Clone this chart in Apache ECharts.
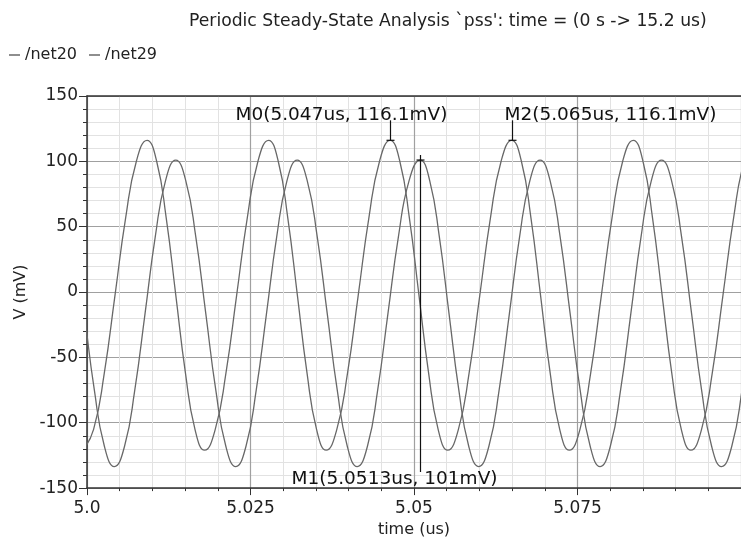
<!DOCTYPE html>
<html><head><meta charset="utf-8">
<script src="https://cdn.jsdelivr.net/npm/echarts@6/dist/echarts.min.js"></script>
<style>html,body{margin:0;padding:0;background:#fff}#c{width:741px;height:543px}</style>
</head><body><div id="c"></div>
<script>
// ---- data ----
const titleText = "Periodic Steady-State Analysis `pss': time = (0 s -> 15.2 us)";
const seriesNames = ['/net20', '/net29'];
const xTickLabels = ['5.0', '5.025', '5.05', '5.075', '5.1'];

// /net20 : time (us) and voltage (mV)
const net20_t = [4.99938,5.00101,5.00265,5.00428,5.00591,5.00755,5.00918,
  5.01065,5.01211,5.01358,5.01505,5.01651,5.01798,
  5.01961,5.02125,5.02288,5.02451,5.02614,5.02777,
  5.02924,5.03070,5.03217,5.03364,5.03510,5.03657,
  5.03820,5.03984,5.04147,5.04310,5.04473,5.04636,
  5.04783,5.04929,5.05076,5.05223,5.05369,5.05516,
  5.05679,5.05843,5.06006,5.06169,5.06332,5.06495,
  5.06642,5.06788,5.06935,5.07082,5.07228,5.07375,
  5.07538,5.07702,5.07865,5.08028,5.08191,5.08354,
  5.08501,5.08647,5.08794,5.08941,5.09087,5.09234,
  5.09397,5.09561,5.09724,5.09887,5.10050,5.10213];
const net20_mV = [-121,-105.1,-61.8,-2.5,56.8,100.1,116.1,
  100.1,56.8,-2.5,-61.8,-105.1,-121,
  -105.1,-61.8,-2.5,56.8,100.1,116.1,
  100.1,56.8,-2.5,-61.8,-105.1,-121,
  -105.1,-61.8,-2.5,56.8,100.1,116.1,
  100.1,56.8,-2.5,-61.8,-105.1,-121,
  -105.1,-61.8,-2.5,56.8,100.1,116.1,
  100.1,56.8,-2.5,-61.8,-105.1,-121,
  -105.1,-61.8,-2.5,56.8,100.1,116.1,
  100.1,56.8,-2.5,-61.8,-105.1,-121,
  -105.1,-61.8,-2.5,56.8,100.1,116.1];

// /net29 : time (us) and voltage (mV)
const net29_t = [4.99500,4.99653,4.99806,4.99959,5.00112,5.00265,5.00418,
  5.00575,5.00731,5.00888,5.01044,5.01201,5.01357,
  5.01510,5.01663,5.01816,5.01969,5.02122,5.02275,
  5.02432,5.02588,5.02745,5.02901,5.03058,5.03214,
  5.03367,5.03520,5.03673,5.03826,5.03979,5.04132,
  5.04289,5.04445,5.04602,5.04762,5.04925,5.05095,
  5.05240,5.05387,5.05535,5.05685,5.05836,5.05989,
  5.06146,5.06302,5.06459,5.06615,5.06772,5.06928,
  5.07081,5.07234,5.07387,5.07540,5.07693,5.07846,
  5.08003,5.08159,5.08316,5.08472,5.08629,5.08785,
  5.08938,5.09091,5.09244,5.09397,5.09550,5.09703,
  5.09860,5.10016,5.10173];
const net29_mV = [101,85.3,42.4,-16.3,-74.9,-117.8,-133.5,
  -117.8,-74.9,-16.3,42.4,85.3,101,
  85.3,42.4,-16.3,-74.9,-117.8,-133.5,
  -117.8,-74.9,-16.3,42.4,85.3,101,
  85.3,42.4,-16.3,-74.9,-117.8,-133.5,
  -117.8,-74.9,-16.3,42.4,85.3,101,
  85.3,42.4,-16.3,-74.9,-117.8,-133.5,
  -117.8,-74.9,-16.3,42.4,85.3,101,
  85.3,42.4,-16.3,-74.9,-117.8,-133.5,
  -117.8,-74.9,-16.3,42.4,85.3,101,
  85.3,42.4,-16.3,-74.9,-117.8,-133.5,
  -117.8,-74.9,-16.3];

// markers
const markerT = [5.04636, 5.05095, 5.06495];
const markerV = [116.1, 101, 116.1];
const markerLabels = ['M0(5.047us, 116.1mV)', 'M1(5.0513us, 101mV)', 'M2(5.065us, 116.1mV)'];

// ---- layout / style (pixel offsets for marker drawing) ----
const markerLayout = [
  {mode: 'up', len: 20, dx: -155, dy: -25},
  {mode: 'down', dx: -129},
  {mode: 'up', len: 20, dx: -8, dy: -25}
];

const zip = (a, b) => a.map((v, i) => [v, b[i]]);
const lineColor = '#686868';
const tickFont = {fontFamily: 'DejaVu Sans', fontSize: 17, color: '#222'};

const chart = echarts.init(document.getElementById('c'), null, {renderer: 'canvas'});
chart.setOption({
  animation: false,
  backgroundColor: '#fff',
  title: {
    text: titleText, left: 184, top: 8,
    textStyle: {fontFamily: 'DejaVu Sans', fontSize: 17.2, fontWeight: 'normal', color: '#222'}
  },
  legend: {
    left: 4, top: 42, itemGap: 12, itemWidth: 11, itemHeight: 1.5, icon: 'rect',
    data: seriesNames,
    textStyle: {fontFamily: 'DejaVu Sans', fontSize: 16, color: '#222'}
  },
  grid: {left: 87, top: 96, width: 661, height: 395.5, containLabel: false},
  xAxis: [{
    type: 'value', min: 5.0, max: 5.1, interval: 0.025,
    name: 'time (us)', nameLocation: 'middle', nameGap: 31,
    nameTextStyle: {fontFamily: 'DejaVu Sans', fontSize: 16, color: '#222'},
    axisLine: {show: true, onZero: false, lineStyle: {color: '#333', width: 1.5}},
    axisTick: {show: true, length: 7, lineStyle: {color: '#333'}},
    minorTick: {show: true, splitNumber: 5, length: 3, lineStyle: {color: '#333'}},
    axisLabel: Object.assign({margin: 12, showMaxLabel: false,
      formatter: v => xTickLabels[Math.round((v - 5) / 0.025)]}, tickFont),
    splitLine: {show: true, lineStyle: {color: '#a0a0a0', width: 1.2}},
    minorSplitLine: {show: true, lineStyle: {color: '#e2e2e2', width: 1}}
  }, {
    type: 'value', position: 'top', min: 5.0, max: 5.1, interval: 0.025,
    axisLine: {show: true, onZero: false, lineStyle: {color: '#333', width: 1.5}},
    axisTick: {show: false}, axisLabel: {show: false}, splitLine: {show: false}
  }],
  yAxis: {
    type: 'value', min: -150, max: 150, interval: 50,
    name: 'V (mV)', nameLocation: 'middle', nameGap: 56,
    nameTextStyle: {fontFamily: 'DejaVu Sans', fontSize: 16, color: '#222'},
    axisLine: {show: true, onZero: false, lineStyle: {color: '#333', width: 1.5}},
    axisTick: {show: true, length: 8, lineStyle: {color: '#333'}},
    minorTick: {show: true, splitNumber: 5, length: 4, lineStyle: {color: '#333'}},
    axisLabel: Object.assign({margin: 9}, tickFont),
    splitLine: {show: true, lineStyle: {color: '#a0a0a0', width: 1.2}},
    minorSplitLine: {show: true, lineStyle: {color: '#e2e2e2', width: 1}}
  },
  series: [
    {name: seriesNames[0], type: 'line', data: zip(net20_t, net20_mV), smooth: 0.5, showSymbol: false,
     lineStyle: {color: lineColor, width: 1.3}, itemStyle: {color: lineColor}, clip: true},
    {name: seriesNames[1], type: 'line', data: zip(net29_t, net29_mV), smooth: 0.5, showSymbol: false,
     lineStyle: {color: lineColor, width: 1.3}, itemStyle: {color: lineColor}, clip: true},
    {
      type: 'custom', clip: false, silent: true, z: 10,
      data: zip(markerT, markerV),
      encode: {x: 0, y: 1},
      renderItem: (params, api) => {
        const i = params.dataIndex;
        const L = markerLayout[i];
        const p = api.coord([api.value(0), api.value(1)]);
        const x = Math.round(p[0]) + 0.5, y = p[1];
        const bottom = api.coord([api.value(0), -150])[1];
        const st = {stroke: '#111', lineWidth: 1.2};
        const font = '18.5px "DejaVu Sans"';
        const children = [];
        if (L.mode === 'up') {
          children.push({type: 'line', shape: {x1: x, y1: y, x2: x, y2: y - L.len}, style: st});
          children.push({type: 'text', x: x + L.dx, y: y + L.dy,
            style: {text: markerLabels[i], fill: '#111', font, verticalAlign: 'middle', align: 'left'}});
        } else {
          children.push({type: 'line', shape: {x1: x, y1: y - 5, x2: x, y2: bottom - 16}, style: st});
          children.push({type: 'text', x: x + L.dx, y: bottom - 8.5,
            style: {text: markerLabels[i], fill: '#111', font, verticalAlign: 'middle', align: 'left'}});
        }
        children.push({type: 'line', shape: {x1: x - 4, y1: y, x2: x + 4, y2: y}, style: st});
        return {type: 'group', children};
      }
    }
  ]
});
</script></body></html>
